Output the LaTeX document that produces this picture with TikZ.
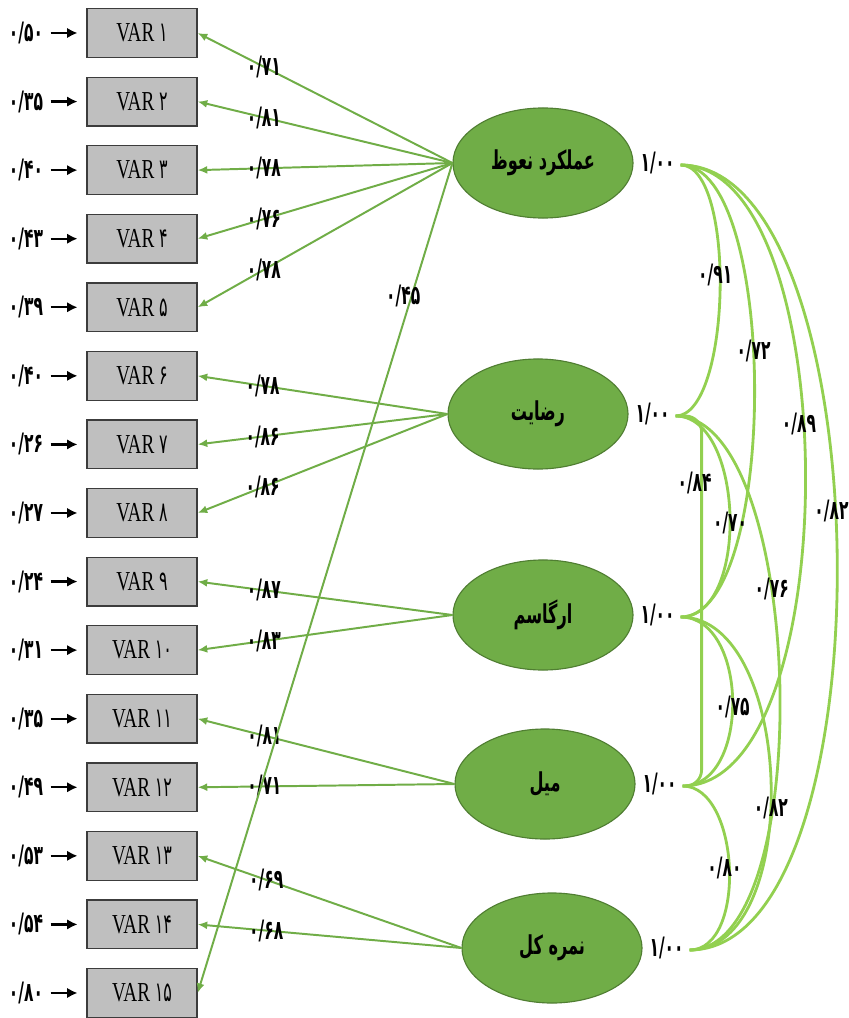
\documentclass[tikz,border=0pt]{standalone}
\usepackage{fontspec}
\setmainfont{Liberation Serif}[FakeStretch=0.7]
\newfontfamily\fadigit{DejaVu Sans}[FakeStretch=0.58]
\newfontfamily\arabicfont[Script=Arabic]{DejaVu Sans}[FakeStretch=0.62]
\TeXXeTstate=1
\usetikzlibrary{arrows.meta,calc,positioning,shapes.geometric}

\definecolor{loadgreen}{RGB}{112,173,71}
\definecolor{covgreen}{RGB}{146,208,80}
\definecolor{ellfill}{RGB}{112,173,71}
\definecolor{ellborder}{RGB}{80,126,50}
\definecolor{boxgray}{RGB}{191,191,191}
\definecolor{boxborder}{RGB}{60,60,60}

\tikzset{
  varbox/.style={draw=boxborder, line width=0.9pt, fill=boxgray, minimum width=2.75cm, minimum height=1.22cm, inner sep=0pt, font=\fontsize{19.5}{20}\selectfont},
  factor/.style={ellipse, draw=ellborder, line width=0.8pt, fill=ellfill, minimum width=4.5cm, minimum height=2.75cm, font=\arabicfont\bfseries\fontsize{18.5}{19}\selectfont},
  coef/.style={inner sep=0pt, font=\fadigit\bfseries\fontsize{19}{19}\selectfont},
  load/.style={draw=loadgreen, line width=1.4pt, -{Latex[length=2.4mm,width=2mm]}},
  cov/.style={draw=covgreen, line width=2pt},
  errarrow/.style={draw=black, line width=1.7pt, -{Latex[length=2.6mm,width=2.6mm]}, shorten <=0.18cm, shorten >=0.22cm}
}

\begin{document}
\begin{tikzpicture}[x=0.025cm, y=-0.025cm]
    \useasboundingbox (0,0) rectangle (848,1018);

    % Observed variables with their error terms
    \foreach \i/\n/\e in {1/۱/۵۰, 2/۲/۳۵, 3/۳/۴۰, 4/۴/۴۳, 5/۵/۳۹, 6/۶/۴۰, 7/۷/۲۶, 8/۸/۲۷, 9/۹/۲۴, 10/۱۰/۳۱, 11/۱۱/۳۵, 12/۱۲/۴۹, 13/۱۳/۵۳, 14/۱۴/۵۴, 15/۱۵/۸۰} {
        \node[varbox] (v\i) at (142, 33+\i*68.57-68.57) {VAR {\fadigit\n}};
        \node[coef] (e\i) at (26, 33+\i*68.57-68.57) {۰/\e};
        \draw[errarrow] (e\i) -- (v\i);
    }

    % Latent factors
    \foreach \i/\x/\y/\t in {1/543/163/عملکرد نعوظ, 2/538/414/رضایت, 3/543/615/ارگاسم, 4/545/784/میل, 5/552/948/نمره کل} {
        \node[factor] (f\i) at (\x,\y) {\beginR \t\endR};
        \node[coef] (r\i) at ($(f\i.east)+(24,0)$) {۱/۰۰};
        \coordinate (c\i) at ($(f\i.east)+(47,2)$);
    }

    % Factor loadings
    \foreach \f/\v/\l in {1/1/۷۱, 1/2/۸۱, 1/3/۷۸, 1/4/۷۶, 1/5/۷۸, 2/6/۷۸, 2/7/۸۶, 2/8/۸۶, 3/9/۸۷, 3/10/۸۳, 4/11/۸۱, 4/12/۷۱, 5/13/۶۹, 5/14/۶۸} {
        \draw[load] (f\f.west) -- node[coef, pos=0.74] {۰/\l} (v\v.east);
    }
    \draw[load] (f1.west) -- node[coef, pos=0.16, xshift=-6pt] {۰/۴۵} (v15.east);

    % Correlations between factors
    \draw[cov] (c1) to[out=0, in=0, looseness=0.57] node[coef, pos=0.46, xshift=-3.5pt] {۰/۹۱} (c2);
    \draw[cov] (c1) to[out=0, in=0, looseness=0.56] node[coef, pos=0.44] {۰/۷۲} (c3);
    \draw[cov] (c1) to[out=0, in=0, looseness=0.68] node[coef, pos=0.445, xshift=-3.5pt] {۰/۸۹} (c4);
    \draw[cov] (c1) to[out=0, in=0, looseness=0.66] node[coef, pos=0.46, xshift=-3pt] {۰/۸۲} (c5);
    \draw[cov] (c2) to[out=0, in=0, looseness=0.88] node[coef, pos=0.52] {۰/۷۰} (c3);
    \draw[cov, rounded corners=0.4cm] (c2) -- ++(26,0) |- node[coef, pos=0.09, xshift=-5pt] {۰/۸۴} (c4);
    \draw[cov] (c2) to[out=0, in=0, looseness=0.62] node[coef, pos=0.38] {۰/۷۶} (c5);
    \draw[cov] (c3) to[out=0, in=0, looseness=1.03] node[coef, pos=0.52] {۰/۷۵} (c4);
    \draw[cov] (c3) to[out=0, in=0, looseness=0.88] node[coef, pos=0.55] {۰/۸۲} (c5);
    \draw[cov] (c4) to[out=0, in=0, looseness=0.9] node[coef, pos=0.5, xshift=-3.5pt] {۰/۸۰} (c5);
\end{tikzpicture}
\end{document}
